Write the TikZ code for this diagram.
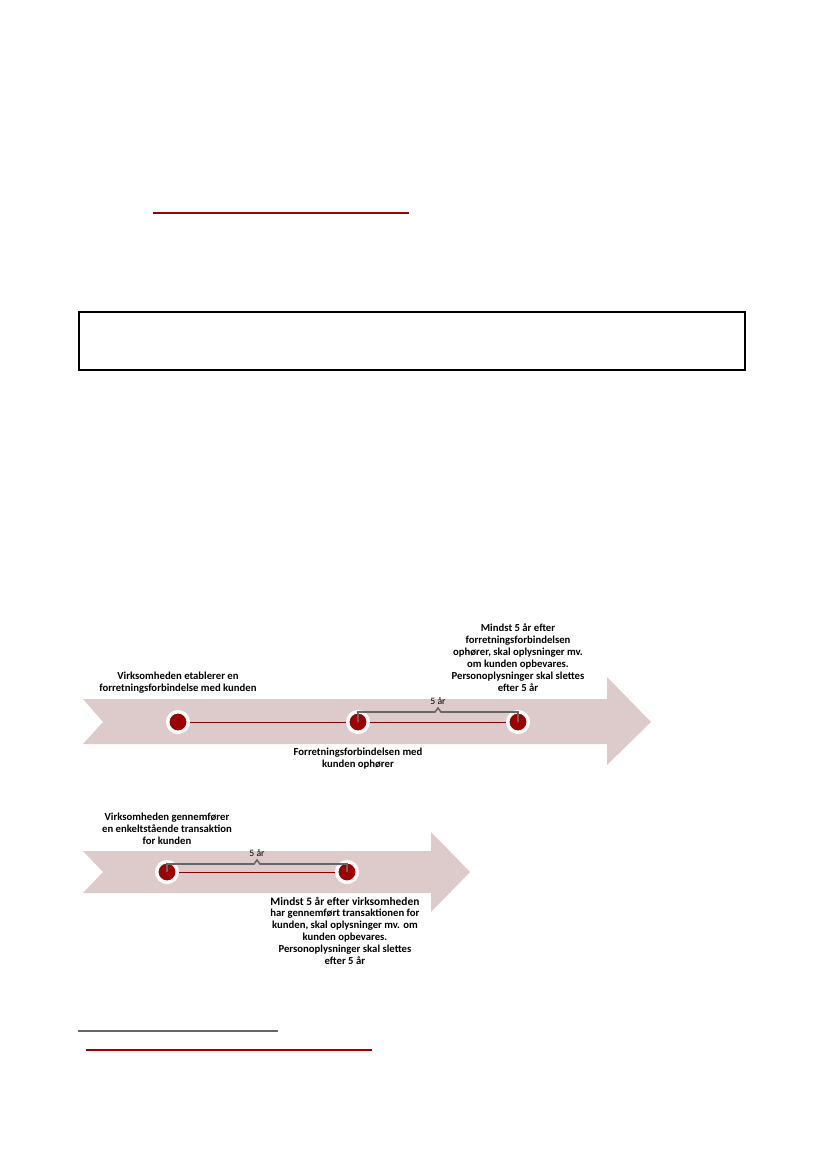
\documentclass[tikz,border=0pt]{standalone}
\usepackage{fontspec}
\setmainfont{Carlito}
\usepackage{xcolor}
\definecolor{colBand}{HTML}{DDCBCC}
\definecolor{colDot}{HTML}{9C0000}
\colorlet{colDotLine}{colDot!90!black}
\definecolor{colBrace}{HTML}{666666}
\usepackage{tikz}
\usetikzlibrary{positioning, calc}

\begin{document}
\begin{tikzpicture}[x=0.72pt, y=-0.72pt,
		dot/.style={circle, fill=colDot, draw=white, line width=2.5pt, minimum size=14.8pt, inner sep=0pt},
		tline/.style={colDotLine, line width=0.6pt},
		brc/.style={colBrace, line width=1.1pt},
		txt/.style={font=\fontsize{7.7}{8.6}\selectfont\bfseries, align=center, inner sep=0pt},
		yrs/.style={font=\fontsize{7}{8}\selectfont, inner sep=0pt}]
	\useasboundingbox (0,0) rectangle (827,1169);
	\draw[colDot, line width=0.8pt] (153,213) -- (409,213);
	\draw[line width=1pt] (79,312) rectangle (745,370);

	% forretningsforbindelse
	\fill[colBand] (83,699) -- (607,699) -- (607,677) -- (651,722) -- (607,765) -- (607,744) -- (83,744) -- (103,722) -- cycle;
	\node[dot] (a1) at (178,722) {};
	\node[dot] (a2) at (358,722) {};
	\node[dot] (a3) at (518,722) {};
	\draw[tline] (a1) -- (a2);
	\draw[tline] (a2) -- (a3);
	\draw[brc] (a2.center) -- ++(0,-10) -- ($(a2)!.5!(a3)+(-3,-10)$) -- ++(3,-4) -- ++(3,4) -- ($(a3)+(0,-10)$) -- (a3.center);
	\node[yrs, above=2pt] (yrsA) at ($(a2)!.5!(a3)+(0,-14)$) {5 år};
	\node[txt, above=12pt of a1] (startTxt) {Virksomheden etablerer en\\forretningsforbindelse med kunden};
	\node[txt, below=10pt of a2] (stopTxt) {Forretningsforbindelsen med\\kunden ophører};
	\node[txt, above=13pt of a3] (keepTxt) {Mindst 5 år efter\\forretningsforbindelsen\\ophører, skal oplysninger mv.\\om kunden opbevares.\\Personoplysninger skal slettes\\efter 5 år};

	% enkeltstaaende transaktion
	\fill[colBand] (83,851) -- (431,851) -- (431,832) -- (470,872) -- (431,912) -- (431,893) -- (83,893) -- (103,872) -- cycle;
	\node[dot] (b1) at (167,872) {};
	\node[dot] (b2) at (347,872) {};
	\draw[tline] (b1) -- (b2);
	\draw[brc] (b1.center) -- ++(0,-8) -- ($(b1)!.5!(b2)+(-3,-8)$) -- ++(3,-4) -- ++(3,4) -- ($(b2)+(0,-8)$) -- (b2.center);
	\node[yrs, above=2pt] (yrsB) at ($(b1)!.5!(b2)+(0,-12)$) {5 år};
	\node[txt, above=11pt of b1] (transTxt) {Virksomheden gennemfører\\en enkeltstående transaktion\\for kunden};
	\node[txt, below=9pt of b2, xshift=-1.5pt, font=\fontsize{7.7}{8.5}\selectfont\bfseries] (keepTxtB) {{\fontsize{8.2}{8.5}\selectfont Mindst 5 år efter virksomheden}\\har gennemført transaktionen for\\kunden, skal oplysninger mv. om\\kunden opbevares.\\Personoplysninger skal slettes\\efter 5 år};

	\draw[colBrace, line width=0.9pt] (78,1031) -- (278,1031);
	\draw[colDot, line width=0.9pt] (86,1050) -- (372,1050);
\end{tikzpicture}
\end{document}
